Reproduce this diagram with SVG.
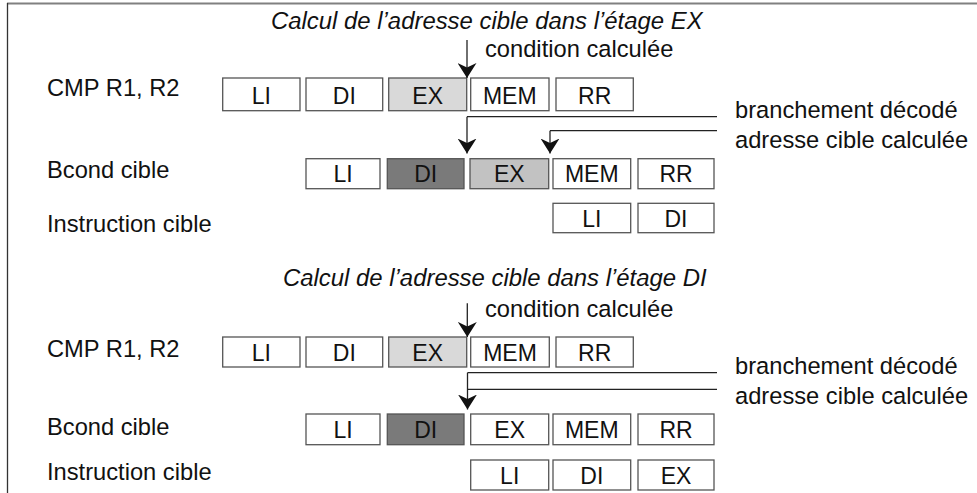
<svg xmlns="http://www.w3.org/2000/svg" width="977" height="493" viewBox="0 0 977 493">
<style>
text{font-family:"Liberation Sans",Arial,sans-serif;fill:#111}
.lbl{font-size:23.7px}
.ttl{font-size:23.9px;font-style:italic}
.cond{font-size:23.7px}
.bx text{font-size:23px;text-anchor:middle}
.bx rect{fill:#fff;stroke:#555;stroke-width:1.3}
.bx rect.light{fill:#d9d9d9}
.bx rect.mid{fill:#c2c2c2}
.bx rect.dark{fill:#7a7a7a}
.cn{fill:none;stroke:#222;stroke-width:1.3}
.ar{marker-end:url(#ah)}
</style>
<defs>
<marker id="ah" viewBox="0 0 15 19" refX="15" refY="9.5" markerWidth="15" markerHeight="19" markerUnits="userSpaceOnUse" orient="auto">
<path d="M0,0 L15,9.5 L0,19 L4.5,9.5 Z" fill="#111"/>
</marker>
</defs>
<rect width="977" height="493" fill="#fff"/>
<g id="frame">
<line x1="7" y1="3.5" x2="977" y2="3.5" stroke="#808080" stroke-width="2"/>
<line x1="7.5" y1="3" x2="7.5" y2="493" stroke="#333" stroke-width="1.3"/>
</g>

<!-- Section 1 -->
<g id="s1-texts">
<text class="ttl" x="271" y="29">Calcul de l’adresse cible dans l’étage EX</text>
<text class="cond" x="485" y="57">condition calculée</text>
<text class="lbl" x="47" y="96">CMP R1, R2</text>
<text class="lbl" x="735" y="118.3">branchement décodé</text>
<text class="lbl" x="735" y="148.3">adresse cible calculée</text>
<text class="lbl" x="47" y="178">Bcond cible</text>
<text class="lbl" x="47" y="232">Instruction cible</text>
</g>

<g id="s1-r1-LI" class="bx"><rect x="222.7" y="78" width="77.3" height="32.7"/><text x="261.3" y="103.5">LI</text></g>
<g id="s1-r1-DI" class="bx"><rect x="306" y="78" width="76.7" height="32.7"/><text x="344.3" y="103.5">DI</text></g>
<g id="s1-r1-EX" class="bx"><rect class="light" x="388.7" y="78" width="78" height="32.7"/><text x="427.7" y="103.5">EX</text></g>
<g id="s1-r1-MEM" class="bx"><rect x="470.7" y="78" width="78.3" height="32.7"/><text x="509.8" y="103.5">MEM</text></g>
<g id="s1-r1-RR" class="bx"><rect x="556" y="78" width="77.3" height="32.7"/><text x="594.7" y="103.5">RR</text></g>

<g id="s1-r2-LI" class="bx"><rect x="306" y="158.7" width="74" height="30"/><text x="343" y="182.2">LI</text></g>
<g id="s1-r2-DI" class="bx"><rect class="dark" x="387.3" y="158.7" width="76.7" height="30"/><text x="425.7" y="182.2">DI</text></g>
<g id="s1-r2-EX" class="bx"><rect class="mid" x="470" y="158.7" width="78.7" height="30"/><text x="509.3" y="182.2">EX</text></g>
<g id="s1-r2-MEM" class="bx"><rect x="553" y="158.7" width="77.7" height="30"/><text x="591.8" y="182.2">MEM</text></g>
<g id="s1-r2-RR" class="bx"><rect x="638" y="158.7" width="76" height="30"/><text x="676" y="182.2">RR</text></g>

<g id="s1-r3-LI" class="bx"><rect x="553" y="203.3" width="77.7" height="29.4"/><text x="591.8" y="226.5">LI</text></g>
<g id="s1-r3-DI" class="bx"><rect x="638" y="203.3" width="76" height="29.4"/><text x="676" y="226.5">DI</text></g>

<!-- Section 2 -->
<g id="s2-texts">
<text class="ttl" x="283" y="286">Calcul de l’adresse cible dans l’étage DI</text>
<text class="cond" x="485" y="317">condition calculée</text>
<text class="lbl" x="47" y="357">CMP R1, R2</text>
<text class="lbl" x="735" y="374">branchement décodé</text>
<text class="lbl" x="735" y="403.5">adresse cible calculée</text>
<text class="lbl" x="47" y="435">Bcond cible</text>
<text class="lbl" x="47" y="480">Instruction cible</text>
</g>

<g id="s2-r1-LI" class="bx"><rect x="222.7" y="337" width="77.3" height="30"/><text x="261.3" y="360.5">LI</text></g>
<g id="s2-r1-DI" class="bx"><rect x="306" y="337" width="76.7" height="30"/><text x="344.3" y="360.5">DI</text></g>
<g id="s2-r1-EX" class="bx"><rect class="light" x="388.7" y="337" width="78" height="30"/><text x="427.7" y="360.5">EX</text></g>
<g id="s2-r1-MEM" class="bx"><rect x="470.7" y="337" width="78.6" height="30"/><text x="510" y="360.5">MEM</text></g>
<g id="s2-r1-RR" class="bx"><rect x="556" y="337" width="77.3" height="30"/><text x="594.7" y="360.5">RR</text></g>

<g id="s2-r2-LI" class="bx"><rect x="306" y="414" width="74" height="30.7"/><text x="343" y="437.8">LI</text></g>
<g id="s2-r2-DI" class="bx"><rect class="dark" x="387.3" y="414" width="76.7" height="30.7"/><text x="425.7" y="437.8">DI</text></g>
<g id="s2-r2-EX" class="bx"><rect x="470.7" y="414" width="78" height="30.7"/><text x="509.7" y="437.8">EX</text></g>
<g id="s2-r2-MEM" class="bx"><rect x="553" y="414" width="77.7" height="30.7"/><text x="591.8" y="437.8">MEM</text></g>
<g id="s2-r2-RR" class="bx"><rect x="638" y="414" width="76" height="30.7"/><text x="676" y="437.8">RR</text></g>

<g id="s2-r3-LI" class="bx"><rect x="470.7" y="460" width="78" height="30"/><text x="509.7" y="483.5">LI</text></g>
<g id="s2-r3-DI" class="bx"><rect x="553" y="460" width="77.7" height="30"/><text x="591.8" y="483.5">DI</text></g>
<g id="s2-r3-EX" class="bx"><rect x="638" y="460" width="76" height="30"/><text x="676" y="483.5">EX</text></g>

<g id="connectors">
<line class="cn ar" x1="467" y1="40" x2="467" y2="78"/>
<line class="cn" x1="467" y1="116.7" x2="717" y2="116.7"/>
<line class="cn ar" x1="467" y1="116.7" x2="467" y2="153.5"/>
<line class="cn" x1="550" y1="130.7" x2="717" y2="130.7"/>
<line class="cn ar" x1="550" y1="130.7" x2="550" y2="153.5"/>

<line class="cn ar" x1="467.3" y1="303.3" x2="467.3" y2="337"/>
<line class="cn" x1="467.5" y1="372.7" x2="717" y2="372.7"/>
<line class="cn" x1="467.5" y1="389.3" x2="717" y2="389.3"/>
<line class="cn ar" x1="467.5" y1="372.7" x2="467.5" y2="409.5"/>
</g>
</svg>
